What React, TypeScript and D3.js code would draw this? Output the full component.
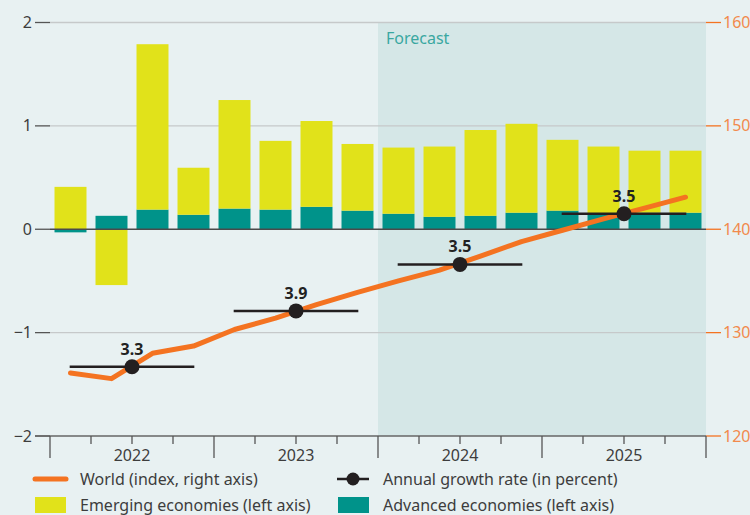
import { scaleBand, scaleLinear, stack, stackOffsetDiverging, line } from 'd3';
import React, { useEffect } from 'react';

const width = 750;
const height = 515;
const plot = { left: 50, right: 706, top: 22.5, bottom: 436 };

const years = ['2022', '2023', '2024', '2025'];
const quarters = years.flatMap(y => ['Q1', 'Q2', 'Q3', 'Q4'].map(q => `${y}${q}`));

// contributions, percentage points (left axis)
const emerging = [0.41, -0.54, 1.6, 0.455, 1.05, 0.665, 0.83, 0.645, 0.64, 0.68, 0.83, 0.86, 0.685, 0.65, 0.6, 0.6];
const advanced = [-0.03, 0.13, 0.19, 0.14, 0.2, 0.19, 0.217, 0.18, 0.15, 0.12, 0.13, 0.16, 0.18, 0.15, 0.16, 0.16];

// world index (right axis)
const world = [126.1, 125.55, 128.0, 128.7, 130.3, 131.4, 132.7, 133.9, 135.0, 136.05, 137.4, 138.8, 139.9, 141.0, 142.05, 143.1];

// annual growth rate, placed on the index
const growthLabels = ['3.3', '3.9', '3.5', '3.5'];
const growthIndex = [126.7, 132.1, 136.6, 141.5];

const leftTicks = [-2, -1, 0, 1, 2];
const rightTicks = [120, 130, 140, 150, 160];

const forecastStart = '2024';

const colors = {
	bg: '#e8f1f2',
	forecast: '#d5e7e7',
	yellow: '#e1e21a',
	teal: '#00938a',
	orange: '#f47321',
	orangeText: '#f28a4c',
	grid: '#c6c9ca',
	text: '#3d3d3d',
	dot: '#231f20',
};

const font = '"Noto Sans", "Open Sans", sans-serif';

const App = () => {
	useEffect(() => {
		document.body.style.margin = '0';
		document.body.style.background = colors.bg;
	}, []);

	const x = scaleBand()
		.domain(quarters)
		.range([plot.left, plot.right])
		.paddingInner(0.22)
		.paddingOuter(0.11);
	const xYear = scaleBand().domain(years).range([plot.left, plot.right]);
	const yLeft = scaleLinear().domain([-2, 2]).range([plot.bottom, plot.top]);
	const yRight = scaleLinear().domain([120, 160]).range([plot.bottom, plot.top]);

	const rows = quarters.map((q, i) => ({ q, advanced: advanced[i], emerging: emerging[i] }));
	const series = stack<any>()
		.keys(['advanced', 'emerging'])
		.offset(stackOffsetDiverging)(rows);

	const worldLine = line<number>()
		.x((_, i) => (x(quarters[i]) as number) + x.bandwidth() / 2)
		.y(d => yRight(d));

	const yearMid = (y: string) => (xYear(y) as number) + xYear.bandwidth() / 2;
	const fx = xYear(forecastStart) as number;

	return (
		<svg width={width} height={height} style={{ display: 'block', fontFamily: font }}>
			<rect width={width} height={height} fill={colors.bg} />
			<rect x={fx} y={plot.top} width={plot.right - fx} height={plot.bottom - plot.top} fill={colors.forecast} />
			<text x={fx + 8} y={44} fontSize={16} fill="#3aa7a1">
				Forecast
			</text>

			{/* grid + left axis */}
			{leftTicks.map(t => (
				<g key={t}>
					{t !== 0 && t !== -2 && (
						<line x1={plot.left} x2={plot.right} y1={yLeft(t)} y2={yLeft(t)} stroke={colors.grid} strokeWidth={1.3} />
					)}
					<line x1={35} x2={plot.left} y1={yLeft(t)} y2={yLeft(t)} stroke="#555" strokeWidth={1.3} />
					<text x={32} y={yLeft(t)} dy="0.35em" textAnchor="end" fontSize={16} fill={colors.text}>
						{t < 0 ? `\u2212${-t}` : t}
					</text>
				</g>
			))}

			{/* right axis */}
			{rightTicks.map(t => (
				<g key={t}>
					<line x1={plot.right} x2={721} y1={yRight(t)} y2={yRight(t)} stroke={colors.orange} strokeWidth={1.3} />
					<text x={723} y={yRight(t)} dy="0.35em" fontSize={16} fill={colors.orangeText}>
						{t}
					</text>
				</g>
			))}

			{/* bars */}
			{series.map(s => (
				<g key={s.key} fill={s.key === 'advanced' ? colors.teal : colors.yellow}>
					{s.map((d, i) => (
						<rect
							key={i}
							x={x(quarters[i])}
							y={yLeft(Math.max(d[0], d[1]))}
							width={x.bandwidth()}
							height={Math.abs(yLeft(d[0]) - yLeft(d[1]))}
						/>
					))}
				</g>
			))}

			{/* zero line */}
			<line x1={plot.left} x2={plot.right} y1={yLeft(0)} y2={yLeft(0)} stroke="#4a4a4a" strokeWidth={1.5} />

			{/* world index */}
			<path d={worldLine(world) || ''} fill="none" stroke={colors.orange} strokeWidth={5} strokeLinecap="round" strokeLinejoin="round" />

			{/* annual growth */}
			{years.map((y, i) => {
				const cx = yearMid(y);
				const cy = yRight(growthIndex[i]);
				const half = xYear.bandwidth() * 0.38;
				return (
					<g key={y}>
						<line x1={cx - half} x2={cx + half} y1={cy} y2={cy} stroke={colors.dot} strokeWidth={2.5} />
						<circle cx={cx} cy={cy} r={7.5} fill={colors.dot} />
						<text x={cx} y={cy - 12} textAnchor="middle" fontSize={16} fontWeight="bold" fill="#222">
							{growthLabels[i]}
						</text>
					</g>
				);
			})}

			{/* x axis */}
			<line x1={35} x2={plot.right} y1={plot.bottom} y2={plot.bottom} stroke="#666" strokeWidth={1.5} />
			{years.map(y => {
				const x0 = xYear(y) as number;
				const w = xYear.bandwidth();
				return (
					<g key={y}>
						<line x1={x0} x2={x0} y1={plot.bottom} y2={plot.bottom + 22} stroke="#555" strokeWidth={1.3} />
						{[0.25, 0.5, 0.75].map(f => (
							<line key={f} x1={x0 + w * f} x2={x0 + w * f} y1={plot.bottom} y2={plot.bottom + 8} stroke="#555" strokeWidth={1.3} />
						))}
						<text x={x0 + w / 2} y={461} textAnchor="middle" fontSize={16} fill={colors.text}>
							{y}
						</text>
					</g>
				);
			})}
			<line x1={plot.right} x2={plot.right} y1={plot.bottom} y2={plot.bottom + 22} stroke="#555" strokeWidth={1.3} />

			{/* legend */}
			<g fontSize={16} fill={colors.text}>
				<line x1={35} x2={66} y1={479} y2={479} stroke={colors.orange} strokeWidth={5} strokeLinecap="round" />
				<text x={80} y={484.5}>World (index, right axis)</text>
				<rect x={35} y={497} width={31} height={16} fill={colors.yellow} />
				<text x={80} y={510.5}>Emerging economies (left axis)</text>
				<line x1={337} x2={369} y1={479} y2={479} stroke={colors.dot} strokeWidth={2.5} />
				<circle cx={353} cy={479} r={6.5} fill={colors.dot} />
				<text x={383} y={484.5}>Annual growth rate (in percent)</text>
				<rect x={338} y={497} width={31} height={16} fill={colors.teal} />
				<text x={383} y={510.5}>Advanced economies (left axis)</text>
			</g>
		</svg>
	);
};

export default App;
